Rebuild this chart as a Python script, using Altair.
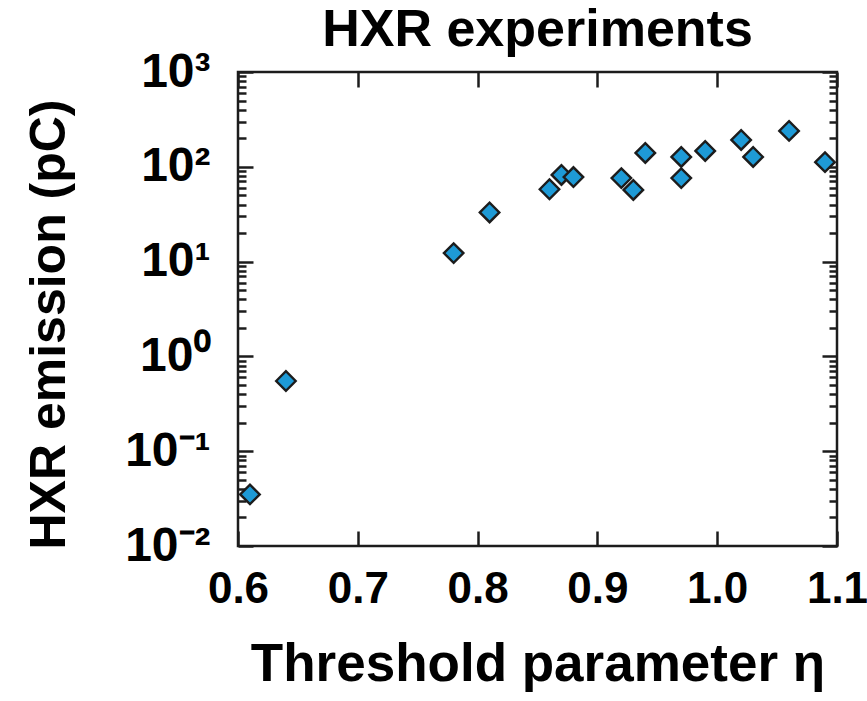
import altair as alt
import pandas as pd

# Data
eta = [0.61, 0.64, 0.78, 0.81, 0.86, 0.87, 0.88, 0.92, 0.93, 0.94, 0.97, 0.97, 0.99, 1.02, 1.03, 1.06, 1.09]
hxr = [0.035, 0.55, 12.3, 33, 58, 82, 78, 76, 57, 140, 127, 76, 147, 192, 127, 239, 112]

x_ticks = [0.6, 0.7, 0.8, 0.9, 1.0, 1.1]
y_major = [0.01, 0.1, 1, 10, 100, 1000]
y_labels = ["10⁻²", "10⁻¹", "10⁰", "10¹", "10²", "10³"]
y_minor = [m * d for d in [0.01, 0.1, 1, 10, 100] for m in range(2, 10)]

df = pd.DataFrame({"eta": eta, "hxr": hxr})

FONT = "Liberation Sans"
INK = "#1c1c1c"
MAJ = 15
MIN = 8

xscale = alt.Scale(domain=[0.6, 1.1], nice=False, zero=False)
yscale = alt.Scale(type="log", domain=[0.01, 1000], nice=False)

label_expr = "[" + ",".join("'%s'" % s for s in y_labels) + "][round(log(datum.value)/LN10)+2]"

common = dict(domain=False, grid=False, tickColor=INK, tickWidth=2.5)

x_bottom = alt.Axis(orient="bottom", values=x_ticks, format=".1f", offset=-MAJ, tickSize=MAJ,
                    labelPadding=21, labelFont=FONT, labelFontSize=44, labelFontWeight="bold",
                    labelColor="black", title="Threshold parameter η", titleFont=FONT,
                    titleFontSize=53, titleFontWeight="bold", titleColor="black", titlePadding=27,
                    labelFlush=False, **common)
x_top = alt.Axis(orient="top", values=x_ticks, offset=-MAJ, tickSize=MAJ, labels=False, title=None, **common)

y_left = alt.Axis(orient="left", values=y_major, labelExpr=label_expr, offset=-MAJ, tickSize=MAJ,
                  labelPadding=28, labelFont=FONT, labelFontSize=48, labelFontWeight="bold",
                  labelColor="black", title="HXR emission (pC)", titleFont=FONT, titleFontSize=50,
                  titleFontWeight="bold", titleColor="black", titlePadding=50, titleY=252,
                  labelFlush=False, **common)
y_left_minor = alt.Axis(orient="left", values=y_minor, offset=-MIN, tickSize=MIN, labels=False, title=None, **common)
y_right = alt.Axis(orient="right", values=y_major, offset=-MAJ, tickSize=MAJ, labels=False, title=None, **common)
y_right_minor = alt.Axis(orient="right", values=y_minor, offset=-MIN, tickSize=MIN, labels=False, title=None, **common)

points = alt.Chart(df).mark_point(
    shape="diamond", fill="#1e9ad6", stroke=INK, strokeWidth=2.4, size=380, opacity=1, fillOpacity=1
).encode(
    x=alt.X("eta:Q", scale=xscale, axis=x_bottom),
    y=alt.Y("hxr:Q", scale=yscale, axis=y_left),
)

def ghost(xaxis, yaxis):
    return alt.Chart(df).mark_point(opacity=0).encode(
        x=alt.X("eta:Q", scale=xscale, axis=xaxis),
        y=alt.Y("hxr:Q", scale=yscale, axis=yaxis),
    )

chart = alt.layer(
    ghost(x_top, y_left_minor),
    ghost(None, y_right),
    ghost(None, y_right_minor),
    points,
).resolve_axis(x="independent", y="independent").properties(
    width=599,
    height=474,
    background="white",
    title=alt.TitleParams("HXR experiments", font=FONT, fontSize=52, fontWeight="bold",
                          color="black", anchor="middle", offset=-9),
    autosize=alt.AutoSizeParams(type="none"),
    padding={"left": 238, "top": 72, "right": 30, "bottom": 155},
).configure_view(stroke=INK, strokeWidth=2.5)

chart.save("out.html", embed_options={"renderer": "svg", "actions": False})
